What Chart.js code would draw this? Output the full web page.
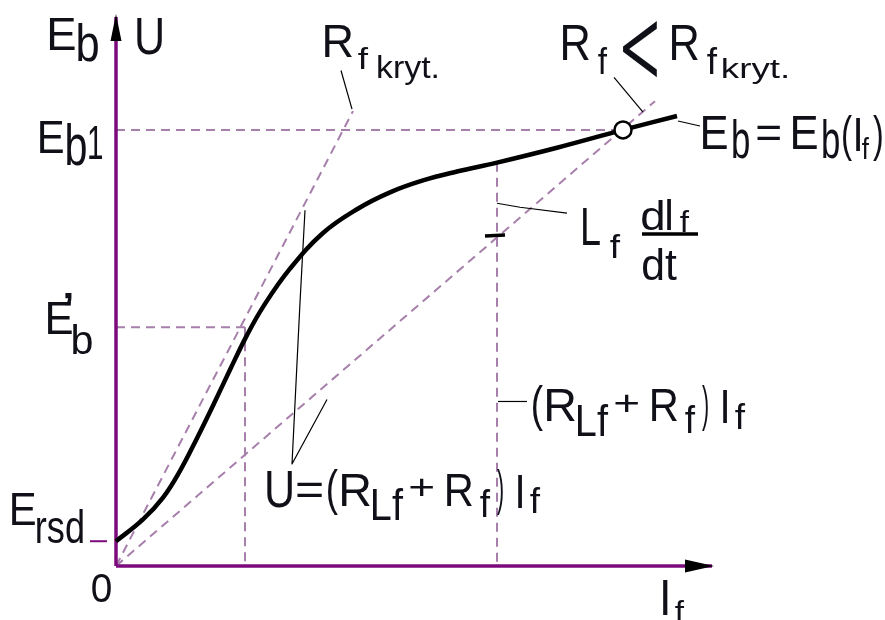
<!DOCTYPE html>
<html>
<head>
<meta charset="utf-8">
<script src="https://cdn.jsdelivr.net/npm/chart.js@4/dist/chart.umd.min.js"></script>
<style>
  html, body { margin: 0; padding: 0; background: #fff; }
  canvas { display: block; }
</style>
</head>
<body>
<canvas id="c" width="885" height="620"></canvas>
<script>
// Magnetisation (no-load) curve of a shunt generator, E_b = E_b(I_f), in arbitrary units
const I_f = [0, 2.7, 4.7, 6.4, 8.1, 9.8, 11.4, 13.1, 14.8, 17.4, 20.7, 24.1, 27.4, 30.7, 34.1, 38.1, 44.1, 50.7, 56.1];
const E_b = [2.5, 4.7, 6.9, 9.6, 12.9, 16.4, 19.8, 23.3, 26.3, 30.0, 33.6, 36.0, 37.7, 38.9, 39.8, 40.7, 42.2, 44.0, 45.4];

// Residual EMF, tangent point E'_b and its current, L_f·dI_f/dt point
const E_rsd = 2.5;
const I_tan = 12.9;
const E_tan = 24.1;
const I_drop = 38.1;

// Field resistance lines U = (R_Lf + R_f)·I_f through the origin
const lineCrit = [[0, 0], [23.7, 45.9]];   // R_f kryt.
const lineRf   = [[0, 0], [53.9, 46.9]];   // R_f < R_f kryt.

// Operating point (self-excitation settles at E_b1)
const I_op = 50.7;
const E_b1 = 44.0;

// Axis extents
const I_max = 59.6;
const U_max = 55.4;

const PURPLE = '#7d0a7d';
const DASH = '#a77fab';
const INK = '#101018';
const FONT = '"Liberation Sans", Arial, sans-serif';

const pts = arr => arr.map(p => ({ x: p[0], y: p[1] }));
const curve = I_f.map((x, i) => ({ x, y: E_b[i] }));
const E_drop = E_b[I_f.indexOf(I_drop)];

const dashed = (data) => ({
  data, showLine: true, borderColor: DASH, borderWidth: 2, borderDash: [9, 6],
  pointRadius: 0, fill: false, clip: false, order: 3
});

// Labels: each glyph run is fitted into a box [left, top, right, bottom] in data units
const labels = [
  { t: 'E', box: [-6.6, 55.3, -4.1, 52.1] },
  { t: 'b', box: [-3.8, 54.8, -1.8, 50.9] },
  { t: 'U', box: [2.1, 55.3, 4.6, 51.6] },

  { t: 'E', box: [-7.6, 44.9, -5.3, 41.7] },
  { t: 'b', box: [-4.9, 44.7, -3.0, 40.4] },
  { t: '1', box: [-2.7, 44.4, -1.4, 41.1] },

  { t: 'E', box: [-6.8, 26.6, -4.4, 23.4] },
  { t: '\u2019', box: [-5.1, 27.6, -4.4, 26.3] },
  { t: 'b', box: [-4.3, 24.4, -2.4, 21.4] },

  { t: 'E', box: [-10.4, 7.3, -8.1, 4.1] },
  { t: 'rsd', box: [-7.9, 5.7, -3.3, 2.3] },

  { t: '0', box: [-2.4, -0.8, -0.5, -3.7] },

  { t: 'I', box: [54.7, -1.4, 55.15, -4.9] },
  { t: 'f', box: [55.9, -3.4, 56.8, -5.6] },

  { t: 'R', box: [20.9, 54.6, 23.6, 51.4] },
  { t: 'f', box: [24.2, 52.3, 25.2, 50.1] },
  { t: 'kryt.', box: [26.2, 51.6, 32.1, 48.6] },

  { t: 'R', box: [44.7, 54.6, 47.3, 51.1] },
  { t: 'f', box: [48.2, 52.3, 49.1, 49.6] },
  { t: '<', box: [50.7, 55.1, 54.1, 49.4], font: '300 100px Inter, "Liberation Sans", sans-serif' },
  { t: 'R', box: [55.6, 54.6, 58.2, 51.1] },
  { t: 'f', box: [59.1, 52.3, 60.1, 49.6] },
  { t: 'kryt.', box: [60.7, 51.3, 67.1, 48.6] },

  { t: 'E', box: [58.7, 45.4, 61.1, 42.1] },
  { t: 'b', box: [61.7, 45.1, 63.3, 41.1] },
  { t: '=', box: [64.1, 44.4, 66.4, 42.9] },
  { t: 'E', box: [67.7, 45.4, 70.1, 42.1] },
  { t: 'b', box: [70.7, 45.1, 72.3, 41.1] },
  { t: '(', box: [72.7, 45.6, 73.6, 40.8] },
  { t: 'I', box: [74.0, 45.3, 74.4, 41.9] },
  { t: 'f', box: [74.6, 43.3, 75.3, 41.1] },
  { t: ')', box: [75.7, 45.6, 76.6, 40.8] },

  { t: 'L', box: [46.7, 36.1, 48.4, 32.4] },
  { t: 'f', box: [49.4, 33.6, 50.4, 31.1] },
  { t: 'd', box: [52.6, 37.0, 54.7, 33.9] },
  { t: 'I', box: [55.1, 37.0, 55.5, 33.9] },
  { t: 'f', box: [56.4, 35.9, 57.3, 33.7] },
  { t: 'dt', box: [52.7, 32.1, 56.1, 28.8] },

  { t: '(', box: [41.7, 18.3, 42.7, 13.6] },
  { t: 'R', box: [43.1, 17.8, 45.9, 14.6] },
  { t: 'Lf', box: [46.2, 16.3, 49.2, 13.1] },
  { t: '+', box: [49.9, 17.4, 52.2, 15.6] },
  { t: 'R', box: [53.6, 17.8, 56.1, 14.6] },
  { t: 'f', box: [56.9, 16.3, 57.9, 13.4] },
  { t: ')', box: [58.6, 18.3, 59.2, 13.6] },
  { t: 'I', box: [60.7, 17.8, 61.1, 14.4] },
  { t: 'f', box: [61.9, 16.4, 62.9, 13.8] },

  { t: 'U', box: [15.1, 9.6, 17.6, 5.9] },
  { t: '=', box: [18.1, 8.4, 20.6, 6.9] },
  { t: '(', box: [21.2, 9.8, 22.2, 5.1] },
  { t: 'R', box: [22.6, 9.3, 25.4, 6.1] },
  { t: 'Lf', box: [25.7, 7.8, 28.7, 4.6] },
  { t: '+', box: [29.4, 8.9, 31.7, 7.1] },
  { t: 'R', box: [33.1, 9.3, 35.6, 6.1] },
  { t: 'f', box: [36.4, 7.8, 37.4, 4.9] },
  { t: ')', box: [38.1, 9.8, 38.7, 5.1] },
  { t: 'I', box: [40.2, 9.3, 40.6, 5.9] },
  { t: 'f', box: [41.4, 7.9, 42.4, 5.3] }
];

// Thin leader lines from the labels to what they name
const leaders = [
  { p: [[22.5, 50.0], [23.6, 46.1]], w: 1.2 },
  { p: [[49.8, 49.3], [52.7, 45.8]], w: 1.2 },
  { p: [[56.2, 44.9], [58.4, 44.4]], w: 1.2 },
  { p: [[38.1, 36.6], [40.4, 36.2], [45.1, 35.6]], w: 1.2 },
  { p: [[36.9, 33.3], [38.9, 33.4]], w: 3.5 },
  { p: [[38.2, 16.6], [41.1, 16.6]], w: 1.2 },
  { p: [[18.9, 35.9], [18.4, 26.6], [17.6, 10.3], [21.1, 16.8]], w: 1.2 },
  { p: [[52.6, 33.5], [58.2, 33.5]], w: 3.5 }   // fraction bar of dI_f/dt
];

const annotate = {
  id: 'annotate',
  afterDatasetsDraw(chart) {
    const ctx = chart.ctx;
    const X = v => chart.scales.x.getPixelForValue(v);
    const Y = v => chart.scales.y.getPixelForValue(v);

    // arrowheads at the ends of both axes
    ctx.save();
    ctx.fillStyle = '#000';
    const yx = X(0), yt = Y(U_max);
    ctx.beginPath();
    ctx.moveTo(yx, yt - 3);
    ctx.lineTo(yx + 5.5, yt + 24);
    ctx.lineTo(yx - 5.5, yt + 24);
    ctx.closePath();
    ctx.fill();
    const xr = X(I_max), xy = Y(0);
    ctx.beginPath();
    ctx.moveTo(xr + 2, xy);
    ctx.lineTo(xr - 27, xy - 6.5);
    ctx.lineTo(xr - 27, xy + 6.5);
    ctx.closePath();
    ctx.fill();
    ctx.restore();

    // leader lines
    ctx.save();
    ctx.strokeStyle = '#000';
    ctx.lineJoin = 'round';
    leaders.forEach(l => {
      ctx.lineWidth = l.w;
      ctx.beginPath();
      l.p.forEach((q, i) => i ? ctx.lineTo(X(q[0]), Y(q[1])) : ctx.moveTo(X(q[0]), Y(q[1])));
      ctx.stroke();
    });
    ctx.restore();

    // text runs
    ctx.save();
    ctx.fillStyle = INK;
    ctx.textAlign = 'left';
    ctx.textBaseline = 'alphabetic';
    labels.forEach(l => {
      ctx.font = l.font || ('100px ' + FONT);
      const m = ctx.measureText(l.t);
      const w = m.actualBoundingBoxLeft + m.actualBoundingBoxRight;
      const h = m.actualBoundingBoxAscent + m.actualBoundingBoxDescent;
      const x0 = X(l.box[0]), y0 = Y(l.box[1]);
      const x1 = X(l.box[2]), y1 = Y(l.box[3]);
      ctx.save();
      ctx.translate(x0, y0);
      ctx.scale((x1 - x0) / w, (y1 - y0) / h);
      ctx.fillText(l.t, m.actualBoundingBoxLeft, m.actualBoundingBoxAscent);
      ctx.restore();
    });
    ctx.restore();
  }
};

new Chart(document.getElementById('c'), {
  type: 'scatter',
  data: {
    datasets: [
      {
        label: 'operating point',
        data: [{ x: I_op, y: E_b1 }],
        pointRadius: 8.5, pointBackgroundColor: '#fff', pointBorderColor: '#000',
        pointBorderWidth: 2.5, clip: false, order: 0
      },
      {
        label: 'E_b(I_f)',
        data: curve, showLine: true, borderColor: '#000', borderWidth: 4.5,
        tension: 0.4, pointRadius: 0, fill: false, clip: false, order: 1
      },
      dashed([{ x: 0, y: E_b1 }, { x: I_op, y: E_b1 }]),
      dashed([{ x: 0, y: E_tan }, { x: I_tan, y: E_tan }]),
      dashed([{ x: I_tan, y: E_tan }, { x: I_tan, y: 0 }]),
      dashed([{ x: I_drop, y: E_drop }, { x: I_drop, y: 0 }]),
      dashed(pts(lineCrit)),
      dashed(pts(lineRf)),
      {
        label: 'E_rsd tick',
        data: [{ x: -2.6, y: E_rsd }, { x: -0.9, y: E_rsd }], showLine: true,
        borderColor: PURPLE, borderWidth: 2, pointRadius: 0, clip: false, order: 2
      },
      {
        label: 'U axis',
        data: [{ x: 0, y: 0 }, { x: 0, y: U_max }], showLine: true,
        borderColor: PURPLE, borderWidth: 3.5, pointRadius: 0, clip: false, order: 2
      },
      {
        label: 'I_f axis',
        data: [{ x: 0, y: 0 }, { x: I_max, y: 0 }], showLine: true,
        borderColor: PURPLE, borderWidth: 3.5, pointRadius: 0, clip: false, order: 2
      }
    ]
  },
  options: {
    responsive: false,
    animation: false,
    devicePixelRatio: 1,
    layout: { padding: { left: 116, right: 169, top: 6, bottom: 54 } },
    scales: {
      x: { type: 'linear', min: 0, max: 60, display: false },
      y: { type: 'linear', min: 0, max: 56, display: false }
    },
    plugins: { legend: { display: false }, tooltip: { enabled: false } },
    events: []
  },
  plugins: [annotate]
});
</script>
</body>
</html>
